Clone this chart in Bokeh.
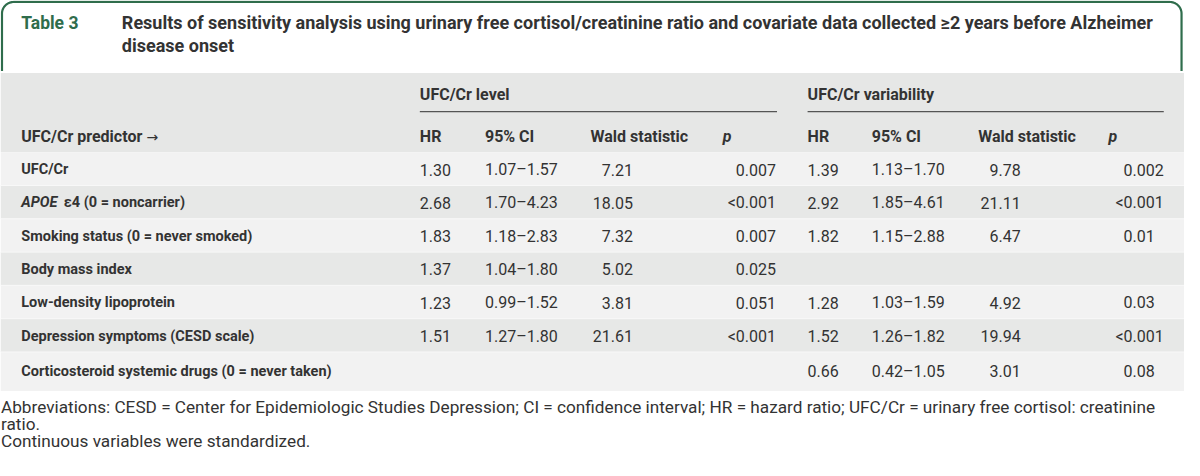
import numpy as np
from bokeh.plotting import figure
from bokeh.models import Range1d, ColumnDataSource
from bokeh.embed import file_html
from bokeh.resources import INLINE
from bokeh.core.properties import value

# ---------------- data ----------------
table_label = "Table 3"
title_lines = [
    "Results of sensitivity analysis using urinary free cortisol/creatinine ratio and covariate data collected \u22652 years before Alzheimer",
    "disease onset",
]
group_headers = ["UFC/Cr level", "UFC/Cr variability"]
col_headers = ["HR", "95% CI", "Wald statistic", "p"]
stub_header = "UFC/Cr predictor"
stub_arrow = "\u2192"

predictor_italic = ["", "APOE", "", "", "", "", ""]
predictor_text = [
    "UFC/Cr",
    "\u03b54 (0 = noncarrier)",
    "Smoking status (0 = never smoked)",
    "Body mass index",
    "Low-density lipoprotein",
    "Depression symptoms (CESD scale)",
    "Corticosteroid systemic drugs (0 = never taken)",
]

level_hr = ["1.30", "2.68", "1.83", "1.37", "1.23", "1.51", ""]
level_ci = ["1.07\u20131.57", "1.70\u20134.23", "1.18\u20132.83", "1.04\u20131.80", "0.99\u20131.52", "1.27\u20131.80", ""]
level_wald = ["7.21", "18.05", "7.32", "5.02", "3.81", "21.61", ""]
level_p = ["0.007", "<0.001", "0.007", "0.025", "0.051", "<0.001", ""]

var_hr = ["1.39", "2.92", "1.82", "", "1.28", "1.52", "0.66"]
var_ci = ["1.13\u20131.70", "1.85\u20134.61", "1.15\u20132.88", "", "1.03\u20131.59", "1.26\u20131.82", "0.42\u20131.05"]
var_wald = ["9.78", "21.11", "6.47", "", "4.92", "19.94", "3.01"]
var_p = ["0.002", "<0.001", "0.01", "", "0.03", "<0.001", "0.08"]

footnotes = [
    "Abbreviations: CESD = Center for Epidemiologic Studies Depression; CI = confidence interval; HR = hazard ratio; UFC/Cr = urinary free cortisol: creatinine",
    "ratio.",
    "Continuous variables were standardized.",
]

# ---------------- styling / layout ----------------
FONT = "Roboto"
GREEN = "#2f6d4c"
TXT = "#333333"
HEAD_BG = "#e6e7e6"
ROW_LIGHT = "#f2f2f2"
ROW_DARK = "#e7e8e7"

W, H = 1200, 476
p = figure(width=1184, height=460, x_range=Range1d(0, W), y_range=Range1d(H, 0),
           output_backend="svg", toolbar_location=None, min_border=0,
           x_axis_location=None, y_axis_location=None,
           background_fill_color="white", border_fill_color="white",
           outline_line_color=None)
p.grid.visible = False

# header frame (green, rounded top corners)
xl, xr, yt, yb, r = 1.5, 1197.0, 1.5, 73.0, 12.0
t1 = np.linspace(np.pi, 1.5 * np.pi, 20)
t2 = np.linspace(1.5 * np.pi, 2 * np.pi, 20)
fx = np.concatenate([[xl], xl + r + r * np.cos(t1), xr - r + r * np.cos(t2), [xr]])
fy = np.concatenate([[yb], yt + r + r * np.sin(t1), yt + r + r * np.sin(t2), [yb]])
p.line(fx, fy, line_color=GREEN, line_width=2.2)

# title
p.text([21], [23], [table_label], text_font=value(FONT), text_font_size="17.5px",
       text_font_style="bold", text_color=GREEN, text_baseline="middle")
p.text([123] * len(title_lines), [23 + 24 * i for i in range(len(title_lines))], title_lines,
       text_font=value(FONT), text_font_size="18px", text_font_style="bold",
       text_color=TXT, text_baseline="middle")

# background bands
head_top, head_bot = 75.0, 157.0
row_h = 34.45
n = len(predictor_text)
p.quad(left=[0], right=[W], top=[head_top], bottom=[head_bot], fill_color=HEAD_BG, line_color=None)
tops = [head_bot + row_h * i for i in range(n)]
bots = [t + row_h for t in tops]
bots[-1] = 404.0
colors = [ROW_LIGHT if i % 2 == 0 else ROW_DARK for i in range(n)]
p.quad(left=[0] * n, right=[W] * n, top=tops, bottom=bots, fill_color=colors, line_color=None)
p.segment(x0=[0] * (n - 1), x1=[W] * (n - 1), y0=tops[1:], y1=tops[1:], line_color="#f8f8f8", line_width=1)

# group headers + rules
grp_x = [425, 818]
grp_rule_end = [787, 1179]
p.text(grp_x, [97, 97], group_headers, text_font=value(FONT), text_font_size="16px",
       text_font_style="bold", text_color=TXT, text_baseline="middle")
p.segment(x0=grp_x, x1=grp_rule_end, y0=[115, 115], y1=[115, 115], line_color="#555555", line_width=1.2)

# column headers
hdr_y = 141
left_hx = [425, 491, 598, 732]
right_hx = [818, 883, 991, 1123]
p.text([21], [hdr_y], [stub_header], text_font=value(FONT), text_font_size="16px",
       text_font_style="bold", text_color=TXT, text_baseline="middle")
p.text([148], [hdr_y], [stub_arrow], text_font=value("DejaVu Sans"), text_font_size="14px",
       text_color=TXT, text_baseline="middle")
for hx in (left_hx, right_hx):
    p.text(hx[:3], [hdr_y] * 3, col_headers[:3], text_font=value(FONT), text_font_size="16px",
           text_font_style="bold", text_color=TXT, text_baseline="middle")
    p.text(hx[3:], [hdr_y], col_headers[3:], text_font=value(FONT), text_font_size="16px",
           text_font_style="bold italic", text_color=TXT, text_baseline="middle")

# rows
ys = [t + 18 for t in tops]
ys[-1] = tops[-1] + 20
p.text([21] * n, ys, predictor_italic, text_font=value(FONT), text_font_size="14.5px",
       text_font_style="bold italic", text_color=TXT, text_baseline="middle")
lab_x = [64 if it else 21 for it in predictor_italic]
p.text(lab_x, ys, predictor_text, text_font=value(FONT), text_font_size="14.5px",
       text_font_style="bold", text_color=TXT, text_baseline="middle")


def pad_p(s):
    if not s or "." not in s:
        return s
    d = len(s.split(".")[1])
    return s + "\u2007" * (3 - d)


def add_group(hr, ci, wald, pv, x_hr, x_ci, x_wald_r, x_p_r):
    src = ColumnDataSource(dict(y=ys, hr=hr, ci=ci, wald=wald, pv=[pad_p(s) for s in pv]))
    kw = dict(source=src, y="y", text_font=value(FONT), text_font_size="16px",
              text_color=TXT, text_baseline="middle")
    p.text(x=x_hr, text="hr", text_align="left", **kw)
    p.text(x=x_ci, text="ci", text_align="left", **kw)
    p.text(x=x_wald_r, text="wald", text_align="right", **kw)
    p.text(x=x_p_r, text="pv", text_align="right", **kw)


add_group(level_hr, level_ci, level_wald, level_p, 425, 491, 641, 786)
add_group(var_hr, var_ci, var_wald, var_p, 818, 883, 1034, 1179)

# footnotes
p.text([0.5] * len(footnotes), [421 + 17.5 * i for i in range(len(footnotes))], footnotes,
       text_font=value(FONT), text_font_size="17.2px", text_color=TXT, text_baseline="middle")

open("out.html", "w").write(file_html(p, INLINE))
